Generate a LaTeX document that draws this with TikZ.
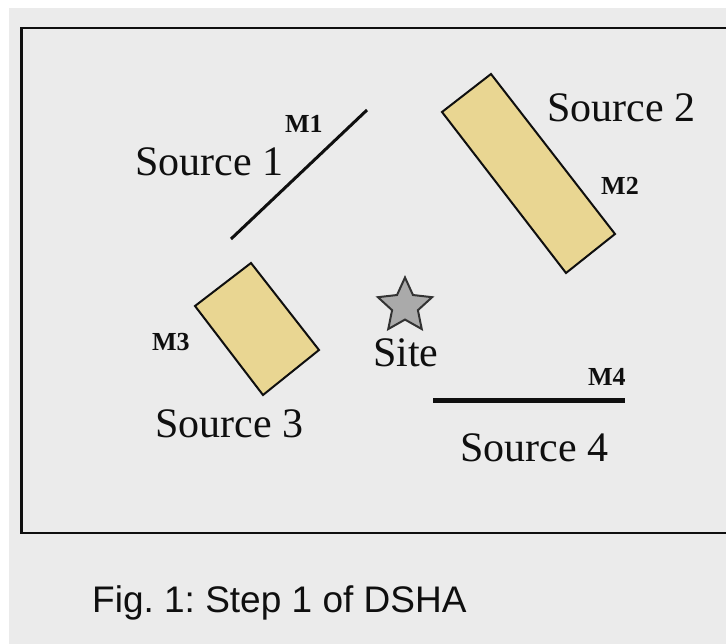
\documentclass[tikz,border=0pt]{standalone}
\usepackage{fontspec}
\setmainfont{Liberation Serif}
\newfontfamily\capfont{Liberation Sans}
\usetikzlibrary{shapes.geometric}
\frenchspacing
\definecolor{bggray}{RGB}{235,235,235}
\definecolor{tan}{RGB}{233,214,146}
\definecolor{stargray}{RGB}{170,170,170}
\definecolor{ink}{RGB}{15,15,15}
\tikzset{
  srclabel/.style={anchor=base west, inner sep=0, font=\fontsize{42}{48}\selectfont, text=ink},
  mlabel/.style={anchor=base west, inner sep=0, font=\fontsize{26}{30}\selectfont\bfseries, text=ink},
  zone/.style={draw=ink, line width=2pt, fill=tan, line join=miter},
  fault/.style={draw=ink, line width=3pt},
}
\begin{document}
\begin{tikzpicture}[x=1pt,y=-1pt]
\useasboundingbox (0,0) rectangle (726,644);
\fill[white] (0,0) rectangle (726,644);
\fill[bggray] (9,8) rectangle (726,644);
% frame
\draw[ink, line width=2.5pt] (730,28) -- (21.5,28) -- (21.5,533) -- (730,533);
% Source 1 (line)
\coordinate (s1a) at (231,239);
\coordinate (s1b) at (367,110);
\draw[fault] (s1a) -- (s1b);
\node[srclabel] (src1) at (135,176) {Source 1};
\node[mlabel] (m1) at (285,133) {M1};
% Source 2 (area)
\draw[zone] (491,74) -- (442,112) -- (566,273) -- (615,234) -- cycle;
\node[srclabel] (src2) at (547,122) {Source 2};
\node[mlabel] (m2) at (601,195) {M2};
% Source 3 (area)
\draw[zone] (251,263) -- (195,306) -- (263,395) -- (319,350) -- cycle;
\node[srclabel] (src3) at (155,437) {Source 3};
\node[mlabel] (m3) at (152,351) {M3};
% Source 4 (line)
\coordinate (s4a) at (433,401);
\coordinate (s4b) at (625,401);
\draw[ink, line width=5pt] (s4a) -- (s4b);
\node[srclabel] (src4) at (460,461) {Source 4};
\node[mlabel] (m4) at (588,386) {M4};
% Site
\node[star, star points=5, star point ratio=2.1, minimum size=57pt, inner sep=0,
      draw=ink!85, line width=2pt, fill=stargray] (star) at (405,306) {};
\node[srclabel] (site) at (373,367) {Site};
% caption
\node[anchor=base west, inner sep=0, font=\capfont\fontsize{37}{44}\selectfont, text=ink] (cap) at (92,612) {Fig. 1: Step 1 of DSHA};
\end{tikzpicture}
\end{document}
